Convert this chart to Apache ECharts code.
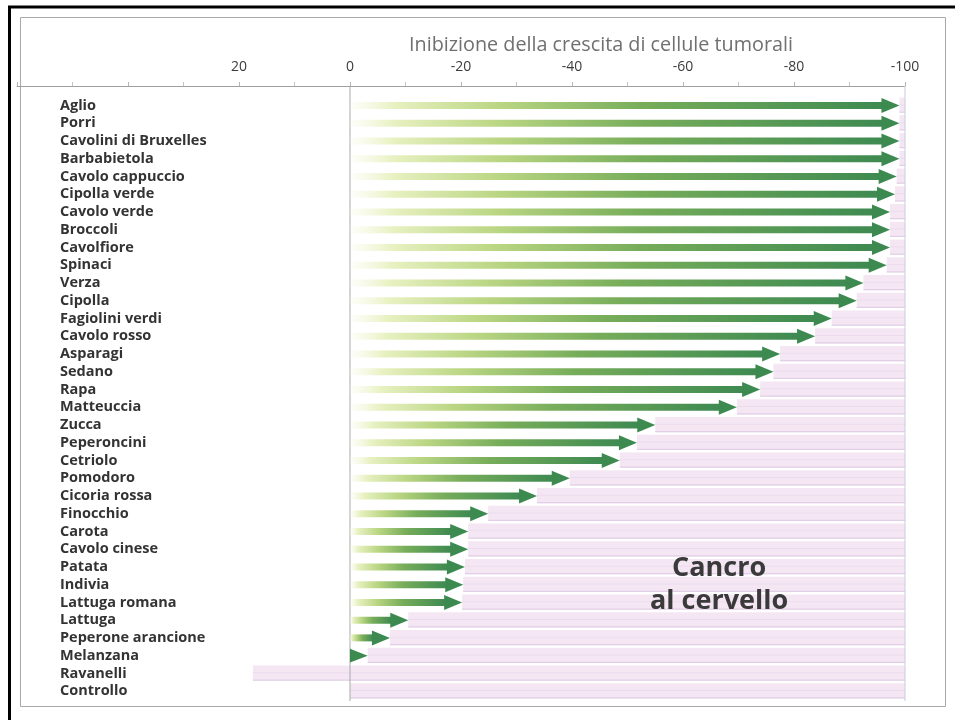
<!DOCTYPE html>
<html>
<head>
<meta charset="utf-8">
<script src="https://cdn.jsdelivr.net/npm/echarts@6/dist/echarts.min.js"></script>
<style>
  html, body { margin: 0; padding: 0; background: #fff; }
  #chart { width: 955px; height: 720px; }
</style>
</head>
<body>
<div id="chart"></div>
<script>
// Vegetables, top to bottom
const categories = [
  'Aglio', 'Porri', 'Cavolini di Bruxelles', 'Barbabietola', 'Cavolo cappuccio',
  'Cipolla verde', 'Cavolo verde', 'Broccoli', 'Cavolfiore', 'Spinaci',
  'Verza', 'Cipolla', 'Fagiolini verdi', 'Cavolo rosso', 'Asparagi',
  'Sedano', 'Rapa', 'Matteuccia', 'Zucca', 'Peperoncini',
  'Cetriolo', 'Pomodoro', 'Cicoria rossa', 'Finocchio', 'Carota',
  'Cavolo cinese', 'Patata', 'Indivia', 'Lattuga romana', 'Lattuga',
  'Peperone arancione', 'Melanzana', 'Ravanelli', 'Controllo'
];

// Growth inhibition (%), negative = inhibition
const inhibition = [
  -99, -99, -99, -99, -98.5,
  -98.2, -97.3, -97.3, -97.3, -96.7,
  -92.5, -91.3, -86.8, -83.8, -77.5,
  -76.3, -73.9, -69.7, -55, -51.7,
  -48.6, -39.6, -33.7, -24.9, -21.3,
  -21.3, -20.7, -20.4, -20.2, -10.5,
  -7.2, -3.2, 17.5, 0
];

// Axis ticks labelled on the top scale
const tickLabels = [20, 0, -20, -40, -60, -80, -100];
// Reference lines: zero and full inhibition
const guideLines = [0, -100];

const axisTitle = 'Inibizione della crescita di cellule tumorali';
const panelText = 'Cancro\nal cervello';

const rowData = categories.map((c, i) => [inhibition[i], i]);

const chart = echarts.init(document.getElementById('chart'));

function renderBand(params, api) {
  const idx = api.value(1);
  const v = api.value(0);
  const a = api.coord([v, idx]);
  const b = api.coord([-100, idx]);
  const h = api.size([0, 1])[1];
  const x0 = Math.min(a[0], b[0]);
  const w = Math.abs(b[0] - a[0]);
  if (w < 0.5) return null;
  const top = a[1] - h / 2 + 1;
  const bh = h - 2.5;
  return {
    type: 'group',
    children: [
      { type: 'rect', shape: { x: x0, y: top, width: w, height: bh },
        style: { fill: '#f4e7f3' } },
      { type: 'rect', shape: { x: x0, y: top + bh - 1.2, width: w, height: 1.2 },
        style: { fill: '#e2cfe7' } },
      { type: 'rect', shape: { x: x0, y: top + bh * 0.45, width: w, height: 1 },
        style: { fill: '#ecdbed' } }
    ]
  };
}

function renderArrow(params, api) {
  const v = api.value(0);
  if (v >= 0) return null;
  const idx = api.value(1);
  const s = api.coord([0, idx]);
  const e = api.coord([v, idx]);
  const len = e[0] - s[0];
  const headLen = Math.min(18, len);
  const scale = Math.min(1, len / 22);
  const headH = 8 + 7 * scale;
  const shaftH = 7;
  const y = s[1];
  const shaftEnd = e[0] - headLen + 1;
  const children = [];
  if (shaftEnd > s[0]) {
    children.push({
      type: 'rect',
      shape: { x: s[0], y: y - shaftH / 2, width: shaftEnd - s[0], height: shaftH },
      style: {
        fill: new echarts.graphic.LinearGradient(0, 0, 1, 0, [
          { offset: 0, color: 'rgba(244,248,222,0.2)' },
          { offset: 0.08, color: '#e8f1c2' },
          { offset: 0.28, color: '#bad683' },
          { offset: 0.55, color: '#77ad5a' },
          { offset: 1, color: '#3e8a51' }
        ])
      }
    });
  }
  children.push({
    type: 'polygon',
    shape: { points: [[e[0] - headLen, y - headH / 2], [e[0], y], [e[0] - headLen, y + headH / 2]] },
    style: { fill: '#3c8a50' }
  });
  return { type: 'group', children };
}

function renderGuide(params, api) {
  const x = api.coord([api.value(0), 0])[0];
  const cs = params.coordSys;
  return {
    type: 'line',
    shape: { x1: x, y1: cs.y - 10.5, x2: x, y2: cs.y + cs.height + 1 },
    style: { stroke: api.value(0) === 0 ? '#a9a9a9' : '#c9cddf', lineWidth: 1 }
  };
}

chart.setOption({
  animation: false,
  backgroundColor: '#ffffff',
  title: {
    text: axisTitle,
    left: 404,
    top: 30,
    textStyle: { fontFamily: 'Open Sans', fontSize: 19.8, fontWeight: 'normal', color: '#707070' }
  },
  grid: { left: 17, right: 50, top: 96.5, bottom: 20 },
  xAxis: {
    type: 'value',
    position: 'top',
    inverse: true,
    min: -100,
    max: 60,
    interval: 20,
    offset: 10.5,
    axisLine: { show: true, lineStyle: { color: '#a0a0a0', width: 1 } },
    axisTick: { show: true, length: 4, lineStyle: { color: '#b5b5b5' } },
    minorTick: { show: true, splitNumber: 2, length: 4, lineStyle: { color: '#c5c5c5' } },
    splitLine: { show: false },
    axisLabel: {
      margin: 12,
      fontFamily: 'Open Sans',
      fontSize: 14,
      color: '#3c3c3c',
      formatter: v => (tickLabels.indexOf(v) >= 0 ? String(v) : '')
    }
  },
  yAxis: {
    type: 'category',
    data: categories,
    inverse: true,
    axisLine: { show: false },
    axisTick: { show: false },
    axisLabel: {
      inside: true,
      interval: 0,
      margin: 43,
      align: 'left',
      fontFamily: 'Open Sans',
      fontWeight: 'bold',
      fontSize: 14.5,
      color: '#333333'
    }
  },
  series: [
    {
      type: 'custom',
      name: 'band',
      renderItem: renderBand,
      encode: { x: 0, y: 1 },
      data: rowData,
      z: 1
    },
    {
      type: 'custom',
      name: 'guide',
      renderItem: renderGuide,
      encode: { x: 0, y: 1 },
      data: guideLines.map(g => [g, 0]),
      z: 2
    },
    {
      type: 'custom',
      name: 'inibizione',
      renderItem: renderArrow,
      encode: { x: 0, y: 1 },
      data: rowData,
      z: 3
    }
  ],
  graphic: [
    { type: 'rect', shape: { x: 20.5, y: 17.5, width: 925, height: 689 },
      style: { fill: 'none', stroke: '#a8a8a8', lineWidth: 1 }, z: 0 },
    { type: 'line', shape: { x1: 8, y1: 7, x2: 955, y2: 7 },
      style: { stroke: '#000', lineWidth: 3 } },
    { type: 'line', shape: { x1: 9.5, y1: 6, x2: 9.5, y2: 720 },
      style: { stroke: '#000', lineWidth: 3 } },
    { type: 'text', left: 650, top: 552, z: 10,
      style: { text: panelText, fontFamily: 'Open Sans', fontSize: 27, fontWeight: 'bold',
               fill: '#3a3a3a', textAlign: 'center', lineHeight: 33 } }
  ]
});
</script>
</body>
</html>
